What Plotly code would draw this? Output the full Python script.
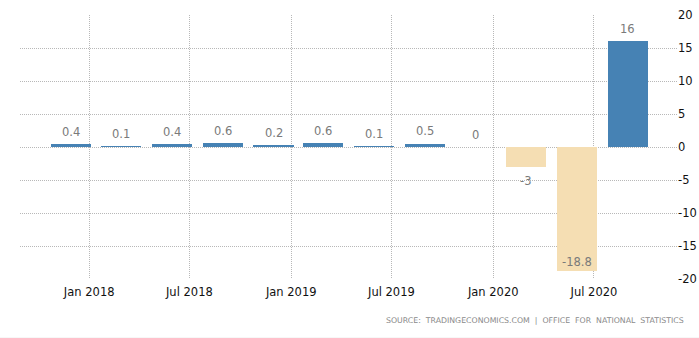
import plotly.graph_objects as go

# Data
dates = ["2017-11-30", "2018-02-28", "2018-05-31", "2018-08-31", "2018-11-30",
         "2019-02-28", "2019-05-31", "2019-08-31", "2019-11-30", "2020-02-29",
         "2020-05-31", "2020-08-31"]
values = [0.4, 0.1, 0.4, 0.6, 0.2, 0.6, 0.1, 0.5, 0, -3, -18.8, 16]
labels = ["0.4", "0.1", "0.4", "0.6", "0.2", "0.6", "0.1", "0.5", "0", "-3", "-18.8", "16"]
tick_vals = ["2018-01-01", "2018-07-01", "2019-01-01", "2019-07-01", "2020-01-01", "2020-07-01"]
tick_text = ["Jan 2018", "Jul 2018", "Jan 2019", "Jul 2019", "Jan 2020", "Jul 2020"]
y_ticks = [-20, -15, -10, -5, 0, 5, 10, 15, 20]
y_tick_text = ["-20", "-15", "-10", "-5", "0", "5", "10", "15", "20"]

POS = "#4682B4"
NEG = "#F5DEB3"
LABEL_COLOR = "#7a7a7a"
GRID = "#b8b8b8"
colors = [POS if v >= 0 else NEG for v in values]

BAR_W = 72.3 * 86400000

fig = go.Figure(go.Bar(
    x=dates, y=values, width=[BAR_W] * len(values),
    marker=dict(color=colors, line=dict(width=0)),
    hoverinfo="skip",
))

annotations = []
for d, v, t in zip(dates, values, labels):
    if v >= 0:
        shift = 12.5
    elif v > -15:
        shift = -14
    else:
        shift = 9.5
    annotations.append(dict(
        x=d, y=v, xref="x", yref="y", text=t, showarrow=False,
        xanchor="center", yanchor="middle", yshift=shift,
        font=dict(family="DejaVu Sans", size=11.5, color=LABEL_COLOR),
    ))

annotations.append(dict(
    text="SOURCE:\u00a0\u00a0TRADINGECONOMICS.COM\u00a0\u00a0|\u00a0\u00a0OFFICE\u00a0\u00a0FOR\u00a0\u00a0NATIONAL\u00a0\u00a0STATISTICS",
    xref="paper", yref="paper", x=1.0137, y=-0.159,
    xanchor="right", yanchor="middle", showarrow=False,
    font=dict(family="DejaVu Sans", size=7.8, color="#8a8a8a"),
))

fig.update_layout(
    width=699, height=338,
    margin=dict(l=20, r=22, t=15, b=59),
    paper_bgcolor="white", plot_bgcolor="white",
    showlegend=False,
    font=dict(family="DejaVu Sans", size=11, color="#111"),
    xaxis=dict(
        type="date", range=["2017-08-29", "2020-11-28"],
        tickmode="array", tickvals=tick_vals, ticktext=tick_text,
        showgrid=True, gridcolor=GRID, griddash="1px,1px", gridwidth=1,
        showline=False, zeroline=False, ticks="", ticklen=0,
        ticklabelstandoff=4, automargin=False,
        tickfont=dict(family="DejaVu Sans", size=11.5, color="#111"),
    ),
    yaxis=dict(
        range=[-20, 20], side="right", tickmode="array",
        tickvals=y_ticks, ticktext=y_tick_text,
        showgrid=True, gridcolor=GRID, griddash="1px,1px", gridwidth=1,
        zeroline=False, showline=False, ticks="", ticklen=0,
        automargin=False, ticklabelstandoff=0,
        tickfont=dict(family="DejaVu Sans", size=11.5, color="#111"),
    ),
    bargap=0,
    annotations=annotations,
    shapes=[dict(type="line", xref="paper", yref="paper",
                 x0=-0.05, x1=1.05, y0=-0.2235, y1=-0.2235,
                 line=dict(color="#eeeeee", width=1))],
)

fig.write_html("out.html")
